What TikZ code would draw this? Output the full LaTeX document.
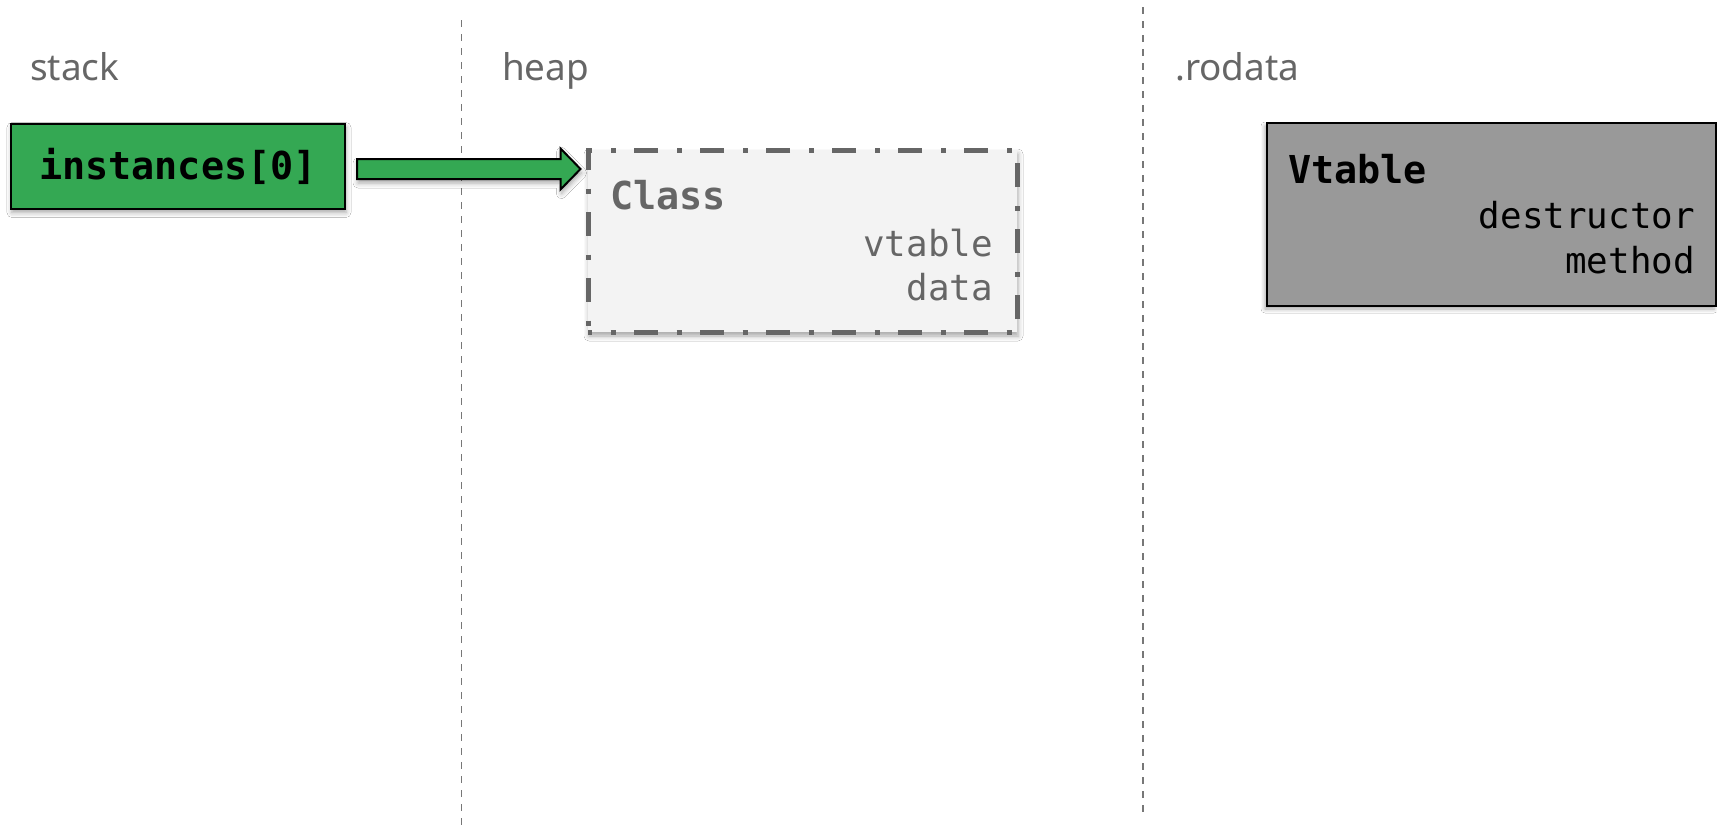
\documentclass[tikz,border=0pt]{standalone}
\usepackage{fontspec}
\setmainfont{Noto Sans}
\newfontfamily\codefont{DejaVu Sans Mono}
\usetikzlibrary{calc,shadows.blur}

\definecolor{labelgray}{HTML}{666666}
\definecolor{codegreen}{HTML}{34A853}
\definecolor{heapfill}{HTML}{F3F3F3}
\definecolor{heapline}{HTML}{666666}
\definecolor{rofill}{HTML}{999999}
\definecolor{divgray}{HTML}{777777}

\tikzset{
  softshadow/.style={blur shadow={shadow xshift=1bp, shadow yshift=-4bp,
      shadow blur radius=5bp, shadow opacity=35}},
  divider/.style={draw=divgray, line width=1.6bp, dash pattern=on 7bp off 7bp},
  region/.style={font=\fontsize{37}{40}\selectfont, text=labelgray,
      anchor=base west, inner sep=0},
  greenbox/.style={rectangle, draw=black, line width=2bp, fill=codegreen,
      minimum width=334bp, minimum height=85bp, inner sep=0, softshadow,
      font=\codefont\bfseries\fontsize{38.6}{40}\selectfont, text=black},
  heapbox/.style={rectangle, draw=heapline, fill=heapfill, line width=5bp,
      dash pattern=on 24bp off 18.5bp on 5bp off 18.5bp, dash phase=20bp,
      minimum width=429bp, minimum height=182bp, inner sep=0, softshadow},
  robox/.style={rectangle, draw=black, line width=1.6bp, fill=rofill,
      minimum width=449bp, minimum height=183bp, inner sep=0,
      blur shadow={shadow xshift=-2bp, shadow yshift=-3bp,
      shadow blur radius=4bp, shadow opacity=35}},
  boxtitle/.style={font=\codefont\bfseries\fontsize{38.6}{40}\selectfont,
      anchor=base west, inner sep=0},
  boxfield/.style={font=\codefont\fontsize{36}{40}\selectfont,
      anchor=base east, inner sep=0},
  fatarrow/.style={draw=black, line width=2bp, fill=codegreen,
      line join=miter, softshadow},
}

\begin{document}
\begin{tikzpicture}[x=1bp, y=-1bp]
\useasboundingbox[fill=white] (0,0) rectangle (1717,827);

% region dividers
\coordinate (d1t) at (461.5,20);
\coordinate (d1b) at (461.5,827);
\coordinate (d2t) at (1142.7,7);
\coordinate (d2b) at (1142.7,814);
\draw[divider] (d1t) -- (d1b);
\draw[divider] (d2t) -- (d2b);

% region labels
\node[region] (lstack) at (30,80) {stack};
\node[region] (lheap) at (502,80) {heap};
\node[region] (lro) at (1175,80) {.rodata};

% stack slot
\node[greenbox] (inst) at (178,166) {instances[0]};

% heap object
\node[heapbox] (cls) at (802.5,241) {};
\node[boxtitle, text=labelgray] (clsname) at (610,209) {Class};
\node[boxfield, text=labelgray] (clsvt) at (993,256) {vtable};
\node[boxfield, text=labelgray] (clsdata) at (993,300) {data};

% read-only vtable
\node[robox] (vt) at (1491.5,214.5) {};
\node[boxtitle, text=black] (vtname) at (1288,183) {Vtable};
\node[boxfield, text=black] (vtdtor) at (1695,228) {destructor};
\node[boxfield, text=black] (vtmeth) at (1695,273) {method};

% pointer from the stack slot to the heap object
\coordinate (as) at ($(inst.east)+(11,3)$);
\coordinate (ae) at ($(cls.west |- as)+(-5,0)$);
\draw[fatarrow] ($(as)+(0,-10)$) -- ($(ae)+(-20,-10)$) -- ($(ae)+(-20,-20.5)$)
  -- (ae) -- ($(ae)+(-20,20.5)$) -- ($(ae)+(-20,10)$) -- ($(as)+(0,10)$) -- cycle;
\end{tikzpicture}
\end{document}
